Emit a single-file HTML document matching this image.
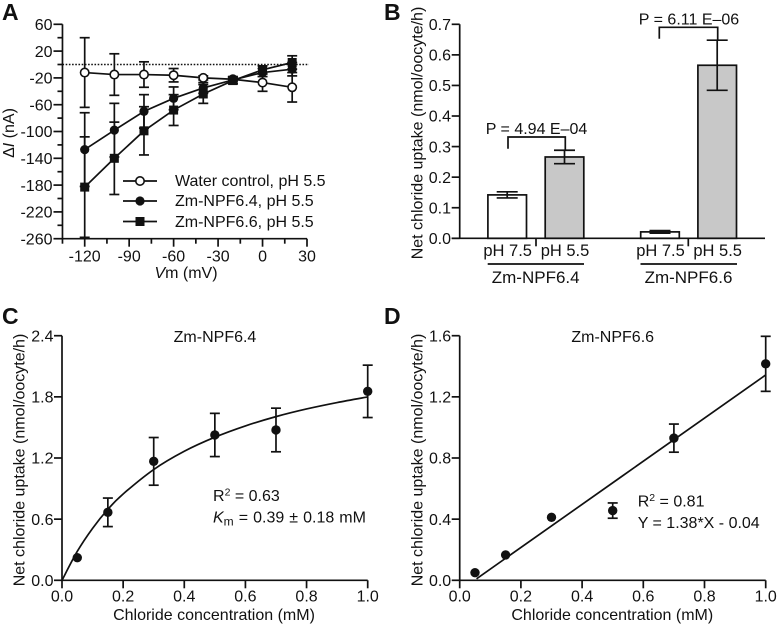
<!DOCTYPE html>
<html>
<head>
<meta charset="utf-8">
<style>
html,body{margin:0;padding:0;background:#fff;}
svg{display:block;}
text{font-family:"Liberation Sans",Arial,sans-serif;font-size:16px;fill:#111;}
.letter{font-size:23px;font-weight:bold;}
</style>
</head>
<body>
<svg id="figure" width="777" height="624" viewBox="0 0 777 624" xmlns="http://www.w3.org/2000/svg">
  <rect width="777" height="624" fill="#fff"/>

  <text class="letter" x="2" y="20">A</text>
  <text class="letter" x="384" y="20">B</text>
  <text class="letter" x="2" y="324">C</text>
  <text class="letter" x="384" y="324">D</text>

  <g id="panelA"></g>
  <g id="panelB"></g>
  <g id="panelC"></g>
  <g id="panelD"></g>

  <text transform="translate(14,133) rotate(-90)" text-anchor="middle">Δ<tspan font-style="italic">I</tspan> (nA)</text>
  <text x="186" y="278" text-anchor="middle"><tspan font-style="italic">V</tspan>m (mV)</text>

  <text x="175" y="186">Water control, pH 5.5</text>
  <text x="175" y="206">Zm-NPF6.4, pH 5.5</text>
  <text x="175" y="227">Zm-NPF6.6, pH 5.5</text>

  <text transform="translate(422.5,133) rotate(-90)" text-anchor="middle">Net chloride uptake (nmol/oocyte/h)</text>
  <text x="536.5" y="134" text-anchor="middle">P = 4.94 E–04</text>
  <text x="689" y="24.5" text-anchor="middle">P = 6.11 E–06</text>
  <text x="535.7" y="283" text-anchor="middle" style="font-size:17px">Zm-NPF6.4</text>
  <text x="688.5" y="283" text-anchor="middle" style="font-size:17px">Zm-NPF6.6</text>

  <text transform="translate(24.5,460) rotate(-90)" text-anchor="middle">Net chloride uptake (nmol/oocyte/h)</text>
  <text x="215" y="342" text-anchor="middle">Zm-NPF6.4</text>
  <text x="214" y="620" text-anchor="middle">Chloride concentration (mM)</text>
  <text x="213" y="501">R<tspan font-size="10.5" dy="-5.5">2</tspan><tspan dy="5.5"> = 0.63</tspan></text>
  <text x="213" y="522.5"><tspan font-style="italic">K</tspan><tspan font-size="12" dy="3">m</tspan><tspan dy="-3" word-spacing="0.6"> = 0.39 ± 0.18 mM</tspan></text>

  <text transform="translate(422.5,460) rotate(-90)" text-anchor="middle">Net chloride uptake (nmol/oocyte/h)</text>
  <text x="612.7" y="342" text-anchor="middle">Zm-NPF6.6</text>
  <text x="612.3" y="620" text-anchor="middle">Chloride concentration (mM)</text>
  <text x="637.7" y="506.5">R<tspan font-size="10.5" dy="-5.5">2</tspan><tspan dy="5.5"> = 0.81</tspan></text>
  <text x="637.7" y="528">Y = 1.38*X - 0.04</text>
</svg>
<script>
// Panel A data
const voltages = [-120, -100, -80, -60, -40, -20, 0, 20];
const waterValues = [-12, -15, -15, -16, -20, -22, -27, -34];
const waterErrors = [52, 31, 19, 10, 3, 3, 13, 22];
const npf64Values = [-127, -98, -70, -50.5, -35, -23, -12, -7];
const npf64Errors = [55, 40, 25, 17, 8, 5, 6, 10];
const npf66Values = [-183, -140, -99, -68, -44, -24, -8, 3];
const npf66Errors = [75, 54, 36, 23, 14, 5, 6, 10];
const aYTicks = [60, 20, -20, -60, -100, -140, -180, -220, -260];
const aYMinorTicks = [40, 0, -40, -80, -120, -160, -200, -240];
const aXTicks = [-120, -90, -60, -30, 0, 30];
const aXMinorTicks = [-135, -105, -75, -45, -15, 15];

// Panel B data
const bCategories = ['pH 7.5', 'pH 5.5', 'pH 7.5', 'pH 5.5'];
const bValues = [0.142, 0.266, 0.021, 0.566];
const bErrors = [0.010, 0.022, 0.004, 0.082];
const bFills = ['#ffffff', '#c8c8c8', '#ffffff', '#c8c8c8'];
const bYTicks = ['0.0', '0.1', '0.2', '0.3', '0.4', '0.5', '0.6', '0.7'];

// Panel C data
const cConc = [0.05, 0.15, 0.3, 0.5, 0.7, 1.0];
const cValues = [0.222, 0.667, 1.167, 1.426, 1.475, 1.854];
const cErrors = [0, 0.14, 0.234, 0.212, 0.214, 0.257];
const cFitX = [0, 0.05, 0.1, 0.15, 0.2, 0.3, 0.4, 0.5, 0.6, 0.7, 0.8, 0.9, 1.0];
const cFitY = [0, 0.284, 0.51, 0.697, 0.847, 1.087, 1.266, 1.404, 1.515, 1.606, 1.681, 1.744, 1.799];
const cYTicks = ['0.0', '0.6', '1.2', '1.8', '2.4'];
const cdXTicks = ['0.0', '0.2', '0.4', '0.6', '0.8', '1.0'];

// Panel D data
const dConc = [0.05, 0.15, 0.3, 0.5, 0.7, 1.0];
const dValues = [0.05, 0.166, 0.412, 0.456, 0.93, 1.416];
const dErrors = [0, 0, 0, 0.05, 0.092, 0.18];
const dFitX = [0.055, 1.0];
const dFitY = [0.01, 1.343];
const dYTicks = ['0.0', '0.4', '0.8', '1.2', '1.6'];

const NS = 'http://www.w3.org/2000/svg';
const INK = '#111';
const LW = 1.7;
function mk(parent, tag, attrs) {
  const el = document.createElementNS(NS, tag);
  for (const k in attrs) el.setAttribute(k, attrs[k]);
  parent.appendChild(el);
  return el;
}
function seg(parent, x1, y1, x2, y2, w) {
  return mk(parent, 'line', {x1: x1, y1: y1, x2: x2, y2: y2, stroke: INK, 'stroke-width': w || LW});
}
function label(parent, x, y, anchor, str) {
  const t = mk(parent, 'text', {x: x, y: y, 'text-anchor': anchor});
  t.textContent = str;
  return t;
}
function errorBar(parent, x, yTop, yBot, capHalf, name) {
  const g = mk(parent, 'g', {});
  
  
  seg(g, x, yTop, x, yBot, LW);
  seg(g, x - capHalf, yTop, x + capHalf, yTop, LW);
  seg(g, x - capHalf, yBot, x + capHalf, yBot, LW);
  return g;
}

/* ---------- Panel A ---------- */
const pA = document.getElementById('panelA');
const aX = v => 84.7 + (v + 120) * (307 - 84.7) / 150;
const aY = v => 24.3 + (60 - v) * (238.7 - 24.3) / 320;

const zeroLine = mk(pA, 'line', {x1: aX(-135), y1: aY(0), x2: 309, y2: aY(0), stroke: INK, 'stroke-width': 1.5, 'stroke-dasharray': '1.6 1.6'});



const aYAxis = seg(pA, aX(-135), aY(60), aX(-135), aY(-260), LW);


const aXAxis = seg(pA, aX(-135), aY(-260), aX(30), aY(-260), LW);



aYTicks.forEach(v => {
  const t = seg(pA, aX(-135) - 9, aY(v), aX(-135), aY(v), LW);
  
  
  const l = label(pA, 52.5, aY(v) + 5.7, 'end', String(v));
  
  
});
aYMinorTicks.forEach(v => {
  const t = seg(pA, aX(-135) - 5, aY(v), aX(-135), aY(v), LW);
  
  
});
aXTicks.forEach(v => {
  const t = seg(pA, aX(v), aY(-260), aX(v), aY(-260) + 8, LW);
  
  
  const l = label(pA, aX(v), 261.5, 'middle', String(v));
  
  
});
aXMinorTicks.forEach(v => {
  const t = seg(pA, aX(v), aY(-260), aX(v), aY(-260) + 5, LW);
  
  
});

function marker(parent, x, y, kind) {
  if (kind === 'open') return mk(parent, 'circle', {cx: x, cy: y, r: 4.2, fill: '#fff', stroke: INK, 'stroke-width': 1.6});
  if (kind === 'circle') return mk(parent, 'circle', {cx: x, cy: y, r: 4.6, fill: INK});
  return mk(parent, 'rect', {x: x - 4.5, y: y - 4.5, width: 9, height: 9, fill: INK});
}
function drawSeries(values, errors, kind, name) {
  const g = mk(pA, 'g', {});
  
  
  voltages.forEach((v, i) => {
    errorBar(g, aX(v), aY(values[i] + errors[i]), aY(values[i] - errors[i]), 5, name + '-error-bar');
  });
  const pts = voltages.map((v, i) => aX(v) + ',' + aY(values[i])).join(' ');
  const line = mk(g, 'polyline', {points: pts, fill: 'none', stroke: INK, 'stroke-width': LW});
  
  
  voltages.forEach((v, i) => {
    const m = marker(g, aX(v), aY(values[i]), kind);
    
    
  });
}
drawSeries(waterValues, waterErrors, 'open', 'water-control-series');
drawSeries(npf64Values, npf64Errors, 'circle', 'npf64-series');
drawSeries(npf66Values, npf66Errors, 'square', 'npf66-series');

const legendKinds = ['open', 'circle', 'square'];
const legendRowNames = ['legend-entry-water', 'legend-entry-npf64', 'legend-entry-npf66'];
const legendRowOffsets = [181, 201, 221.5];
legendKinds.forEach((k, i) => {
  const g = mk(pA, 'g', {});
  
  
  seg(g, 123, legendRowOffsets[i], 157, legendRowOffsets[i], LW);
  marker(g, 140, legendRowOffsets[i], k);
});

/* ---------- Panel B ---------- */
const pB = document.getElementById('panelB');
const bY = v => 238.3 - v * (238.3 - 24.3) / 0.7;
const bCenters = [507.2, 564.5, 660, 717.2];
const bBarWidth = 38.6;

bValues.forEach((v, i) => {
  const r = mk(pB, 'rect', {x: bCenters[i] - bBarWidth / 2, y: bY(v), width: bBarWidth, height: bY(0) - bY(v), fill: bFills[i], stroke: INK, 'stroke-width': LW});
  
  
  errorBar(pB, bCenters[i], bY(v + bErrors[i]), bY(v - bErrors[i]), 10.5, 'uptake-bar-error');
  const l = label(pB, bCenters[i] + 0.5, 256, 'middle', bCategories[i]);
  l.style.fontSize = '16.5px';
  
  
});

const bYAxis = seg(pB, 459.7, bY(0.7), 459.7, bY(0), LW);


const bXAxis = seg(pB, 451.7, bY(0), 765, bY(0), LW);



bYTicks.forEach(s => {
  const v = parseFloat(s);
  const t = seg(pB, 451.7, bY(v), 459.7, bY(v), LW);
  
  
  const l = label(pB, 451, bY(v) + 5.7, 'end', s);
  
  
});

const sep1 = seg(pB, 536, bY(0), 536, bY(0) + 8, LW);


const sep2 = seg(pB, 688.3, bY(0), 688.3, bY(0) + 8, LW);


const under1 = seg(pB, 487.7, 264, 584, 264, LW);


const under2 = seg(pB, 640.5, 264, 737, 264, LW);



const br1 = mk(pB, 'path', {d: 'M508 148.7V137H565.3V150', fill: 'none', stroke: INK, 'stroke-width': LW});


const br2 = mk(pB, 'path', {d: 'M659.3 38.7V27.3H717.7V40', fill: 'none', stroke: INK, 'stroke-width': LW});



/* ---------- Panels C / D ---------- */
function smoothPath(pts) {
  let d = 'M' + pts[0][0] + ' ' + pts[0][1];
  for (let i = 0; i < pts.length - 1; i++) {
    const p0 = pts[Math.max(i - 1, 0)], p1 = pts[i], p2 = pts[i + 1], p3 = pts[Math.min(i + 2, pts.length - 1)];
    d += 'C' + (p1[0] + (p2[0] - p0[0]) / 6) + ' ' + (p1[1] + (p2[1] - p0[1]) / 6) + ' ' +
         (p2[0] - (p3[0] - p1[0]) / 6) + ' ' + (p2[1] - (p3[1] - p1[1]) / 6) + ' ' + p2[0] + ' ' + p2[1];
  }
  return d;
}
function drawXY(parent, prefix, x0, x1, yMax, conc, values, errors, fitX, fitY, yTicks) {
  const sx = v => x0 + v * (x1 - x0);
  const sy = v => 580.3 - v * (580.3 - 335.7) / yMax;

  const yAxis = seg(parent, x0, sy(yMax), x0, sy(0), LW);
  
  
  const xAxis = seg(parent, x0, sy(0), x1, sy(0), LW);
  
  

  yTicks.forEach(s => {
    const v = parseFloat(s);
    const t = seg(parent, x0 - 8, sy(v), x0, sy(v), LW);
    
    
    const l = label(parent, x0 - 8.5, sy(v) + 5.7, 'end', s);
    
    
  });
  cdXTicks.forEach(s => {
    const v = parseFloat(s);
    const t = seg(parent, sx(v), sy(0), sx(v), sy(0) + 8, LW);
    
    
    const l = label(parent, sx(v), 601.7, 'middle', s);
    
    
  });

  const fit = mk(parent, 'path', {d: smoothPath(fitX.map((v, i) => [sx(v), sy(fitY[i])])), fill: 'none', stroke: INK, 'stroke-width': LW});
  
  

  conc.forEach((v, i) => {
    if (errors[i] > 0) errorBar(parent, sx(v), sy(values[i] + errors[i]), sy(values[i] - errors[i]), 5, prefix + '-error-bar');
    const m = mk(parent, 'circle', {cx: sx(v), cy: sy(values[i]), r: 4.7, fill: INK});
    
    
  });
}
drawXY(document.getElementById('panelC'), 'panel-c', 62, 367.7, 2.4, cConc, cValues, cErrors, cFitX, cFitY, cYTicks);
drawXY(document.getElementById('panelD'), 'panel-d', 459.7, 765.7, 1.6, dConc, dValues, dErrors, dFitX, dFitY, dYTicks);
</script>
</body>
</html>
